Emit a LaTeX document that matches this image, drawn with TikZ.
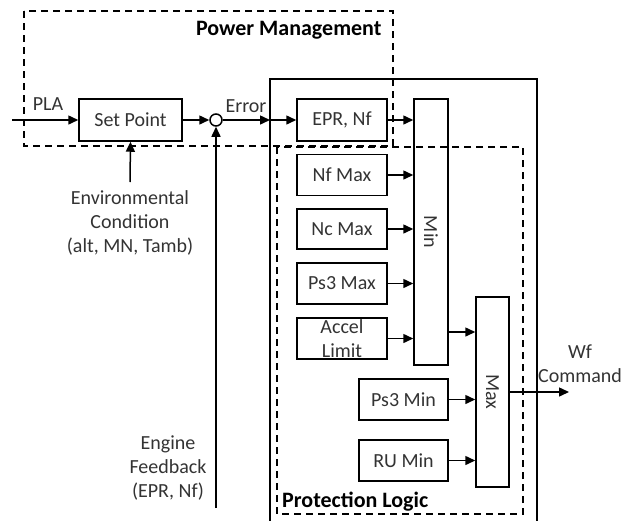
\documentclass[tikz,border=0pt]{standalone}
\usepackage{fontspec}
\setmainfont{Carlito}
\usetikzlibrary{arrows.meta}
\begin{document}
\begin{tikzpicture}[x=1pt,y=-1pt,
  every node/.style={font=\fontsize{20}{24.4}\selectfont, text=black!80},
  box/.style={draw=black, line width=1.5pt, inner sep=0pt, align=center},
  lbl/.style={font=\fontsize{22}{26}\selectfont\bfseries, text=black},
  arr/.style={line width=1.5pt, -{Triangle[length=10pt,width=9pt]}},
  ln/.style={line width=1.5pt},
  dsh/.style={line width=1.5pt, dash pattern=on 7pt off 5pt}]
\useasboundingbox (0,0) rectangle (624,520);
% frames
\draw[dsh] (24,11) rectangle (393,146);
\draw[dsh] (277,147) rectangle (523,514);
\draw[ln] (270,522) -- (270,79) -- (537,79) -- (537,522);
\node[lbl, anchor=east] (pm) at (385,30) {Power Management};
\node[lbl, anchor=west, fill=white, inner sep=1pt] (pl) at (281,502) {Protection Logic};
% blocks
\node[box, minimum width=103pt, minimum height=42pt] (sp) at (130.5,120) {Set Point};
\node[draw=black, line width=1.5pt, circle, minimum size=12pt, inner sep=0pt] (sum) at (216,120) {};
\node[box, minimum width=90pt, minimum height=42pt] (epr) at (342,120) {EPR, Nf};
\node[box, minimum width=90pt, minimum height=41pt] (nf) at (342,175) {Nf Max};
\node[box, minimum width=90pt, minimum height=40pt] (nc) at (342,229) {Nc Max};
\node[box, minimum width=90pt, minimum height=41pt] (psmax) at (342,283.5) {Ps3 Max};
\node[box, minimum width=90pt, minimum height=41pt] (acc) at (342,338.5) {Accel\\[-1pt]Limit};
\node[box, minimum width=34pt, minimum height=266pt] (min) at (431,232) {};
\node[rotate=-90] at (min.center) [yshift=0pt] {Min};
\node[box, minimum width=33pt, minimum height=190pt] (max) at (492.5,392) {};
\node[rotate=-90] at (max.center) {Max};
\node[box, minimum width=89pt, minimum height=41pt] (psmin) at (403.5,399.5) {Ps3 Min};
\node[box, minimum width=89pt, minimum height=41pt] (ru) at (403.5,460.5) {RU Min};
% coordinates
\coordinate (pla) at (12,120);
\coordinate (bnd) at (270,120);
\coordinate (env) at (130,182);
\coordinate (fb) at (216,508);
\coordinate (out) at (569,392);
% labels
\node (plat) at (48,104) {PLA};
\node (errt) at (246,106) {Error};
\node[align=center] (envt) at (130,223) {Environmental\\Condition\\(alt, MN, Tamb)};
\node[align=center] (fbt) at (168,468) {Engine\\Feedback\\(EPR, Nf)};
\node[align=center] (wft) at (580,364) {Wf\\Command};
% connectors
\draw[arr] (pla) -- (sp.west);
\draw[arr] (sp.east) -- (sum.west);
\draw[arr] (sum.east) -- (bnd);
\draw[arr] (bnd) -- (epr.west);
\draw[arr] (env) -- (sp.south);
\draw[arr] (fb) -- (sum.south);
\draw[arr] (epr.east) -- (epr.east -| min.west);
\draw[arr] (nf.east) -- (nf.east -| min.west);
\draw[arr] (nc.east) -- (nc.east -| min.west);
\draw[arr] (psmax.east) -- (psmax.east -| min.west);
\draw[arr] (acc.east) -- (acc.east -| min.west);
\draw[arr] ([yshift=-100pt]min.east) -- ([yshift=-100pt]min.east -| max.west);
\draw[arr] (psmin.east) -- (psmin.east -| max.west);
\draw[arr] (ru.east) -- (ru.east -| max.west);
\draw[arr] (max.east) -- (out);
\end{tikzpicture}
\end{document}
